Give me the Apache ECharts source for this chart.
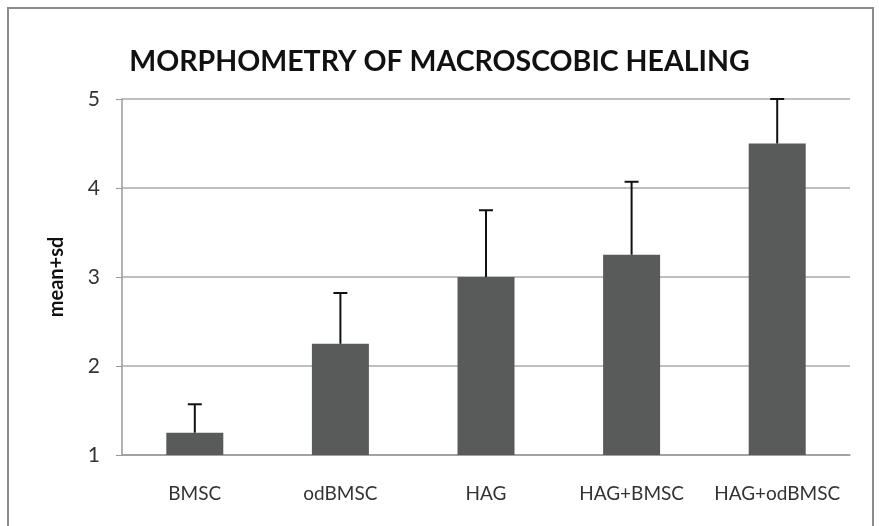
<!DOCTYPE html>
<html><head><meta charset="utf-8">
<script src="https://cdn.jsdelivr.net/npm/echarts@6/dist/echarts.min.js"></script>
<style>html,body{margin:0;padding:0;background:#fff}#c{width:879px;height:526px}</style>
</head><body><div id="c"></div>
<script>
const categories = ['BMSC', 'odBMSC', 'HAG', 'HAG+BMSC', 'HAG+odBMSC'];
const means = [1.25, 2.25, 3.0, 3.25, 4.5];
const sds = [0.32, 0.57, 0.75, 0.82, 0.5];
const yTicks = [1, 2, 3, 4, 5];

const chart = echarts.init(document.getElementById('c'));
const font = 'Lato, "Open Sans", sans-serif';
chart.setOption({
  animation: false,
  title: {
    text: 'MORPHOMETRY OF MACROSCOBIC HEALING',
    left: 'center', top: 42,
    textStyle: { fontFamily: font, fontSize: 28.5, fontWeight: 'bold', color: '#111' }
  },
  graphic: [{
    type: 'rect', shape: { x: 8, y: 8, width: 865, height: 530 },
    style: { fill: null, stroke: '#8c8c8c', lineWidth: 2 }, z: -1
  }],
  grid: { left: 122, right: 29, top: 99, bottom: 71 },
  xAxis: {
    type: 'category', data: categories,
    axisLine: { lineStyle: { color: '#999', width: 1.5 } },
    axisTick: { show: false },
    axisLabel: { interval: 0, fontFamily: font, fontSize: 19, color: '#333', margin: 29 }
  },
  yAxis: {
    type: 'value', min: yTicks[0], max: yTicks[yTicks.length - 1], interval: 1,
    name: 'mean+sd', nameLocation: 'middle', nameGap: 55,
    nameTextStyle: { fontFamily: font, fontSize: 20, fontWeight: 'bold', color: '#111' },
    axisLine: { show: true, lineStyle: { color: '#999', width: 1.5 } },
    axisTick: { show: true, length: 6, lineStyle: { color: '#999' } },
    axisLabel: { fontFamily: font, fontSize: 21, color: '#333', margin: 22 },
    splitLine: { lineStyle: { color: '#aaa', width: 1.5 } }
  },
  series: [{
    type: 'bar', data: means, barWidth: 57,
    itemStyle: { color: '#595b5b' }
  }, {
    type: 'custom',
    data: means.map((m, i) => [i, m, m + sds[i]]),
    renderItem: function (params, api) {
      const x = api.value(0);
      const p0 = api.coord([x, api.value(1)]);
      const p1 = api.coord([x, api.value(2)]);
      const hw = 7;
      return {
        type: 'group', children: [
          { type: 'line', shape: { x1: p0[0], y1: p0[1], x2: p1[0], y2: p1[1] }, style: { stroke: '#111', lineWidth: 2 } },
          { type: 'line', shape: { x1: p1[0] - hw, y1: p1[1], x2: p1[0] + hw, y2: p1[1] }, style: { stroke: '#111', lineWidth: 2 } }
        ]
      };
    },
    z: 5
  }]
});
</script></body></html>
